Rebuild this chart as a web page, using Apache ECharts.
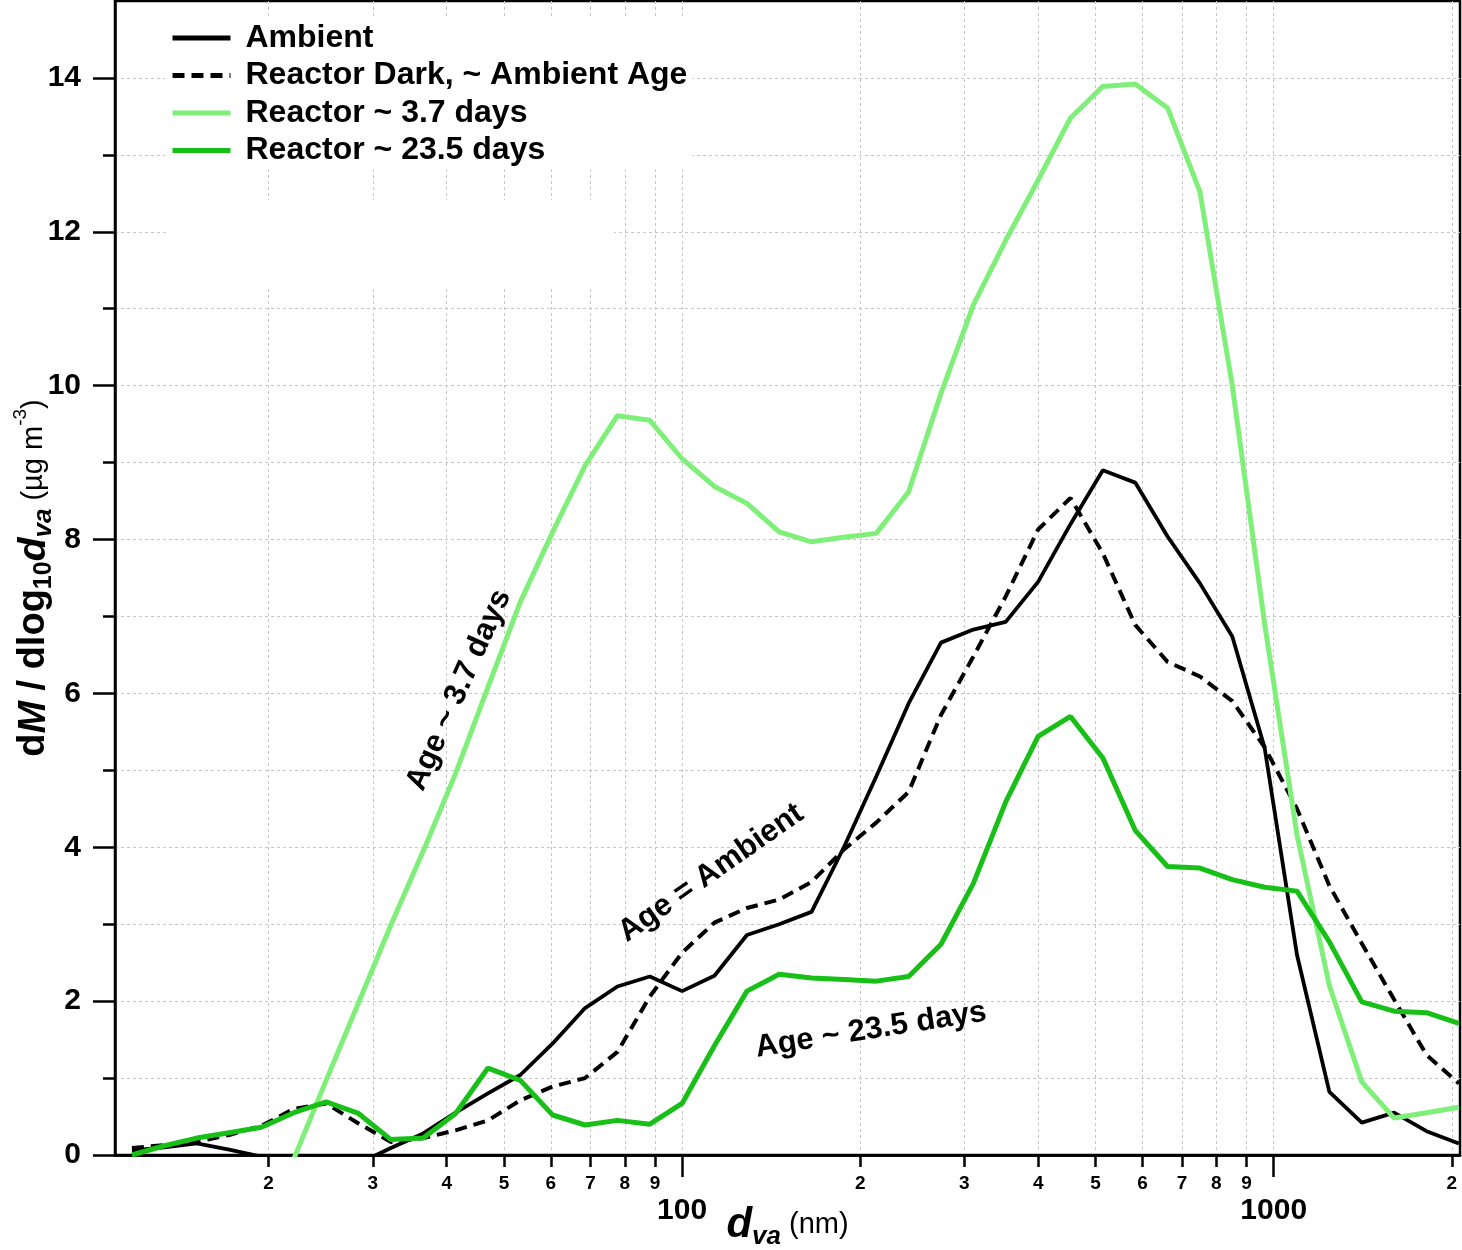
<!DOCTYPE html>
<html>
<head>
<meta charset="utf-8">
<script src="https://cdn.jsdelivr.net/npm/echarts@6/dist/echarts.min.js"></script>
<style>
html, body { margin: 0; padding: 0; background: #fff; }
#main { width: 1462px; height: 1250px; }
</style>
</head>
<body>
<div id="main"></div>
<script>
// vacuum aerodynamic diameter bins (nm)
var dva = [11.75, 13.33, 15.12, 17.15, 19.45, 22.06, 25.02, 28.38, 32.19, 36.51,
    41.41, 46.97, 53.28, 60.43, 68.55, 77.75, 88.19, 100.0, 113.4, 128.7,
    145.9, 165.5, 187.7, 212.9, 241.5, 273.9, 310.7, 352.4, 399.7, 453.4,
    514.3, 583.3, 661.6, 750.5, 851.2, 965.5, 1095, 1242, 1409, 1598, 1813, 2056];

var ambient = [0.06, 0.10, 0.15, 0.07, -0.02, -0.15, -0.20, -0.11, 0.09, 0.28,
    0.55, 0.80, 1.04, 1.45, 1.91, 2.19, 2.32, 2.13, 2.33, 2.86,
    3.00, 3.16, 4.00, 4.92, 5.87, 6.66, 6.83, 6.93, 7.45, 8.20,
    8.90, 8.74, 8.04, 7.43, 6.74, 5.29, 2.60, 0.82, 0.42, 0.55, 0.31, 0.15];

var reactorDark = [0.09, 0.13, 0.17, 0.26, 0.38, 0.60, 0.67, 0.41, 0.17, 0.22,
    0.32, 0.45, 0.71, 0.89, 1.00, 1.34, 2.06, 2.63, 3.02, 3.21,
    3.32, 3.55, 3.97, 4.32, 4.72, 5.72, 6.48, 7.26, 8.13, 8.54,
    7.82, 6.89, 6.41, 6.22, 5.90, 5.30, 4.50, 3.50, 2.75, 2.02, 1.30, 0.93];

var reactor37 = [null, null, null, null, null, -0.05, 0.97, 1.98, 2.99, 3.95,
    4.96, 6.08, 7.19, 8.10, 8.96, 9.61, 9.55, 9.05, 8.69, 8.47,
    8.10, 7.97, 8.03, 8.08, 8.62, 9.90, 11.05, 11.89, 12.67, 13.48,
    13.89, 13.92, 13.61, 12.52, 10.0, 6.9, 4.16, 2.2, 0.95, 0.48, 0.55, 0.62];

var reactor235 = [0.00, 0.12, 0.22, 0.29, 0.36, 0.55, 0.69, 0.54, 0.20, 0.22,
    0.54, 1.13, 0.97, 0.52, 0.39, 0.45, 0.40, 0.67, 1.42, 2.13,
    2.35, 2.30, 2.28, 2.26, 2.32, 2.74, 3.53, 4.59, 5.44, 5.70,
    5.16, 4.22, 3.75, 3.73, 3.58, 3.48, 3.43, 2.77, 1.99, 1.87, 1.85, 1.71];

var seriesNames = ['Ambient', 'Reactor Dark, ~ Ambient Age', 'Reactor ~ 3.7 days', 'Reactor ~ 23.5 days'];

var minorTicksX = [20, 30, 40, 50, 60, 70, 80, 90, 200, 300, 400, 500, 600, 700, 800, 900, 2000];
var majorTicksX = [100, 1000];
var majorTicksY = [0, 2, 4, 6, 8, 10, 12, 14];
var minorTicksY = [1, 3, 5, 7, 9, 11, 13];

var FONT = '"Liberation Sans", Arial, sans-serif';

function pairs(ys) {
    return dva.map(function (d, i) { return [d, ys[i]]; });
}

function leadDigit(v) {
    var p = Math.pow(10, Math.floor(Math.log10(v) + 1e-9));
    return String(Math.round(v / p));
}

var gridLine = { show: true, lineStyle: { color: '#c6c6c6', width: 1, type: [3, 3] } };
var blackLine = { color: '#000', width: 2.5 };

// rich styles for the axis titles (sub/superscripts)
var yRich = {
    b: { fontFamily: FONT, fontSize: 38, fontWeight: 'bold', color: '#000', lineHeight: 46 },
    bi: { fontFamily: FONT, fontSize: 39, fontWeight: 'bold', fontStyle: 'italic', color: '#000', lineHeight: 46 },
    bsub: { fontFamily: FONT, fontSize: 25, fontWeight: 'bold', color: '#000', lineHeight: 25, verticalAlign: 'bottom' },
    bisub: { fontFamily: FONT, fontSize: 26, fontWeight: 'bold', fontStyle: 'italic', color: '#000', lineHeight: 25, verticalAlign: 'bottom' },
    n: { fontFamily: FONT, fontSize: 29, color: '#000', lineHeight: 46 },
    sup: { fontFamily: FONT, fontSize: 19, color: '#000', lineHeight: 19, verticalAlign: 'top' }
};
var xRich = {
    bi: { fontFamily: FONT, fontSize: 42, fontWeight: 'bold', fontStyle: 'italic', color: '#000', lineHeight: 50 },
    bisub: { fontFamily: FONT, fontSize: 26, fontWeight: 'bold', fontStyle: 'italic', color: '#000', lineHeight: 26, verticalAlign: 'bottom' },
    n: { fontFamily: FONT, fontSize: 29, color: '#000', lineHeight: 50 }
};

var dom = document.getElementById('main');
var chart = echarts.init(dom);

chart.setOption({
    animation: false,
    backgroundColor: '#fff',
    grid: {
        left: 115, right: 2, top: 1, bottom: 95,
        outerBoundsMode: 'none',
        containLabel: false,
        show: true,
        borderColor: '#000',
        borderWidth: 2.5,
        backgroundColor: 'transparent'
    },
    legend: {
        orient: 'vertical',
        left: 165,
        top: 17,
        padding: [5, 5, 3, 5],
        backgroundColor: '#fff',
        itemWidth: 58,
        itemHeight: 14,
        itemGap: 5.5,
        data: seriesNames,
        itemStyle: { opacity: 0 },
        lineStyle: { width: 5 },
        textStyle: { fontFamily: FONT, fontSize: 32, fontWeight: 'bold', color: '#000', lineHeight: 30, padding: [0, 0, 0, 10] }
    },
    xAxis: [{
        type: 'log',
        logBase: 10,
        min: 11,
        max: 2065,
        position: 'bottom',
        axisLine: { show: true, onZero: false, lineStyle: blackLine },
        axisTick: { show: true, length: 12, customValues: minorTicksX, lineStyle: blackLine },
        axisLabel: {
            customValues: minorTicksX, formatter: leadDigit, margin: 19,
            fontFamily: FONT, fontSize: 19, fontWeight: 'bold', color: '#000'
        },
        splitLine: gridLine,
        name: '{bi|d}{bisub|va}{n| (nm)}',
        nameLocation: 'middle',
        nameGap: 45,
        nameMoveOverlap: false,
        nameTextStyle: { rich: xRich }
    }, {
        type: 'log',
        logBase: 10,
        min: 11,
        max: 2065,
        position: 'bottom',
        axisLine: { show: true, onZero: false, lineStyle: blackLine },
        axisTick: { show: true, length: 22, customValues: majorTicksX, lineStyle: blackLine },
        axisLabel: {
            customValues: majorTicksX, margin: 41,
            formatter: function (v) { return String(Math.round(v)); },
            fontFamily: FONT, fontSize: 30, fontWeight: 'bold', color: '#000'
        },
        splitLine: gridLine
    }],
    yAxis: [{
        type: 'value',
        min: 0,
        max: 15,
        interval: 1,
        position: 'left',
        axisLine: { show: true, onZero: false, lineStyle: blackLine },
        axisTick: { show: true, length: 22, customValues: majorTicksY, lineStyle: blackLine },
        axisLabel: {
            customValues: majorTicksY, margin: 34,
            fontFamily: FONT, fontSize: 30, fontWeight: 'bold', color: '#000'
        },
        splitLine: gridLine,
        name: '{b|d}{bi|M}{b| / dlog}{bsub|10}{bi|d}{bisub|va}{n| (µg m}{sup|-3}{n|)}',
        nameLocation: 'middle',
        nameRotate: 90,
        nameGap: 58,
        nameMoveOverlap: false,
        nameTextStyle: { rich: yRich }
    }, {
        type: 'value',
        min: 0,
        max: 15,
        interval: 1,
        position: 'left',
        axisLine: { show: false },
        axisTick: { show: true, length: 12, customValues: minorTicksY, lineStyle: blackLine },
        axisLabel: { show: false },
        splitLine: gridLine
    }],
    graphic: [{
        type: 'rect',
        z: 1,
        shape: { x: 167, y: 200, width: 447, height: 87 },
        style: { fill: '#fff' }
    }, {
        type: 'text', z: 10, x: 459, y: 690, rotation: 66 * Math.PI / 180,
        style: { text: 'Age ~ 3.7 days', font: 'bold 31px ' + FONT, fill: '#000', align: 'center', verticalAlign: 'middle' }
    }, {
        type: 'text', z: 10, x: 711, y: 873, rotation: 35 * Math.PI / 180,
        style: { text: 'Age = Ambient', font: 'bold 31px ' + FONT, fill: '#000', align: 'center', verticalAlign: 'middle' }
    }, {
        type: 'text', z: 10, x: 871, y: 1030, rotation: 9 * Math.PI / 180,
        style: { text: 'Age ~ 23.5 days', font: 'bold 31px ' + FONT, fill: '#000', align: 'center', verticalAlign: 'middle' }
    }],
    series: [{
        name: seriesNames[0],
        type: 'line',
        data: pairs(ambient),
        symbol: 'none',
        clip: true,
        lineStyle: { color: '#000', width: 3.8 },
        itemStyle: { color: '#000' }
    }, {
        name: seriesNames[1],
        type: 'line',
        data: pairs(reactorDark),
        symbol: 'none',
        clip: true,
        lineStyle: { color: '#000', width: 4, type: [12, 7] },
        itemStyle: { color: '#000' }
    }, {
        name: seriesNames[2],
        type: 'line',
        data: pairs(reactor37),
        symbol: 'none',
        clip: true,
        lineStyle: { color: '#7FEF7A', width: 5 },
        itemStyle: { color: '#7FEF7A' }
    }, {
        name: seriesNames[3],
        type: 'line',
        data: pairs(reactor235),
        symbol: 'none',
        clip: true,
        lineStyle: { color: '#17BF17', width: 5 },
        itemStyle: { color: '#17BF17' }
    }]
});
</script>
</body>
</html>
